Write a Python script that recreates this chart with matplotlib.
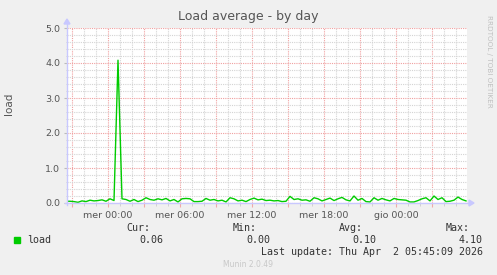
import numpy as np
import matplotlib
matplotlib.use("Agg")
import matplotlib.pyplot as plt
from matplotlib.lines import Line2D
from matplotlib.patches import Polygon, Rectangle
from matplotlib.ticker import MultipleLocator, FuncFormatter

# load average samples, every 20 min, first sample at mar 20:30 (hours rel. to mer 00:00)
t_start = -3.5
t_step = 1 / 3
load = [0.05, 0.05, 0.04, 0.02, 0.06, 0.04, 0.08, 0.06, 0.07, 0.09,
        0.05, 0.12, 0.07, 4.08, 0.12, 0.10, 0.05, 0.10, 0.04, 0.08,
        0.15, 0.10, 0.08, 0.12, 0.09, 0.13, 0.06, 0.10, 0.03, 0.12,
        0.13, 0.12, 0.04, 0.04, 0.05, 0.13, 0.08, 0.10, 0.06, 0.08,
        0.03, 0.15, 0.12, 0.06, 0.08, 0.04, 0.10, 0.14, 0.09, 0.11,
        0.07, 0.08, 0.06, 0.07, 0.04, 0.05, 0.19, 0.10, 0.12, 0.08,
        0.09, 0.05, 0.15, 0.12, 0.06, 0.10, 0.14, 0.07, 0.12, 0.16,
        0.09, 0.06, 0.20, 0.08, 0.13, 0.04, 0.03, 0.15, 0.08, 0.13,
        0.09, 0.06, 0.13, 0.10, 0.09, 0.08, 0.03, 0.03, 0.07, 0.12,
        0.15, 0.06, 0.20, 0.10, 0.15, 0.04, 0.05, 0.08, 0.17, 0.10,
        0.06]

day_names = {-1: "mar", 0: "mer", 1: "gio"}
stats_labels = ["Cur:", "Min:", "Avg:", "Max:"]
stats_values = ["0.06", "0.00", "0.10", "4.10"]
last_update = "Last update: Thu Apr  2 05:45:09 2026"

W, H = 497, 275
fig = plt.figure(figsize=(W / 100, H / 100), dpi=100, facecolor="#f0f0f0")


def fx(x):
    return x / W


def fy(y):
    return 1 - y / H


L, R, T, B = 67, 467, 28, 203
ax = fig.add_axes([fx(L), fy(B), (R - L) / W, (B - T) / H])
ax.set_facecolor("white")

t = t_start + t_step * np.arange(len(load))
ax.set_xlim((L - 108) / 12, (R - 108) / 12)
ax.set_ylim(0, 5)

# grid: minor grey every hour / 0.2, major red every 3 h / 1.0
ax.xaxis.set_minor_locator(MultipleLocator(1))
ax.xaxis.set_major_locator(MultipleLocator(3))
ax.yaxis.set_minor_locator(MultipleLocator(0.2))
ax.yaxis.set_major_locator(MultipleLocator(1))


def xfmt(v, pos):
    h = int(round(v))
    if h % 6 or h < 0 or h > 24:
        return ""
    return f"{day_names.get(h // 24, '')} {h % 24:02d}:00"


ax.xaxis.set_major_formatter(FuncFormatter(xfmt))
ax.yaxis.set_major_formatter(FuncFormatter(lambda v, p: f"{v:.1f}"))
ax.grid(which="minor", color="#d4d4d4", linestyle=(0, (1, 1)), lw=0.8)
ax.grid(which="major", color="#f0a0a0", linestyle=(0, (1, 1)), lw=0.8)
ax.set_axisbelow(True)
ax.tick_params(which="both", labelsize=6.8, labelcolor="#555555", pad=3)
ax.tick_params(axis="x", which="major", length=3, color="#f0a8a8")
ax.tick_params(axis="x", which="minor", length=2, color="#cccccc")
ax.tick_params(axis="y", which="major", length=2, color="#bbbbbb")
ax.tick_params(axis="y", which="minor", length=1, color="#cccccc")
for s in ax.spines.values():
    s.set_visible(False)

ax.plot(t, load, color="#00cc00", lw=1.0, zorder=3)

# axes with arrows
ac = "#c8c8ff"
fig.add_artist(Line2D([fx(L), fx(L)], [fy(B + 2), fy(T - 6)], color=ac, lw=1))
fig.add_artist(Line2D([fx(L - 2), fx(R + 4)], [fy(B), fy(B)], color=ac, lw=1))
fig.add_artist(Polygon([[fx(L - 3), fy(T - 4)], [fx(L + 3), fy(T - 4)], [fx(L), fy(T - 9)]],
                       closed=True, color=ac))
fig.add_artist(Polygon([[fx(R + 2), fy(B - 3)], [fx(R + 2), fy(B + 3)], [fx(R + 7), fy(B)]],
                       closed=True, color=ac))

fig.text(fx(248), fy(20), "Load average - by day", ha="center", va="baseline",
         fontsize=9, color="#555555")
fig.text(fx(9), fy(104), "load", rotation=90, ha="center", va="center",
         fontsize=7.5, color="#555555")
fig.text(fx(489), fy(15), "RRDTOOL / TOBI OETIKER", rotation=270, ha="center", va="top",
         fontsize=5.2, color="#c0c0c0")

# legend
mono = "DejaVu Sans Mono"
fig.add_artist(Rectangle((fx(14), fy(243)), 6 / W, 6 / H, color="#00cc00"))
fig.text(fx(27), fy(243), "load", fontsize=7.2, family=mono, color="#333333", va="baseline")
label_x = [150, 257, 363, 470]
value_x = [163, 270, 376, 483]
for lx, vx, lab, val in zip(label_x, value_x, stats_labels, stats_values):
    fig.text(fx(lx), fy(231), lab, ha="right", va="baseline", fontsize=7.2,
             family=mono, color="#333333")
    fig.text(fx(vx), fy(243), val, ha="right", va="baseline", fontsize=7.2,
             family=mono, color="#333333")
fig.text(fx(483), fy(255), last_update, ha="right", va="baseline", fontsize=7.2,
         family=mono, color="#333333")
fig.text(fx(248), fy(267), "Munin 2.0.49", ha="center", va="baseline",
         fontsize=5.5, color="#c8c8c8")

fig.savefig("out.png", dpi=100, facecolor=fig.get_facecolor())
